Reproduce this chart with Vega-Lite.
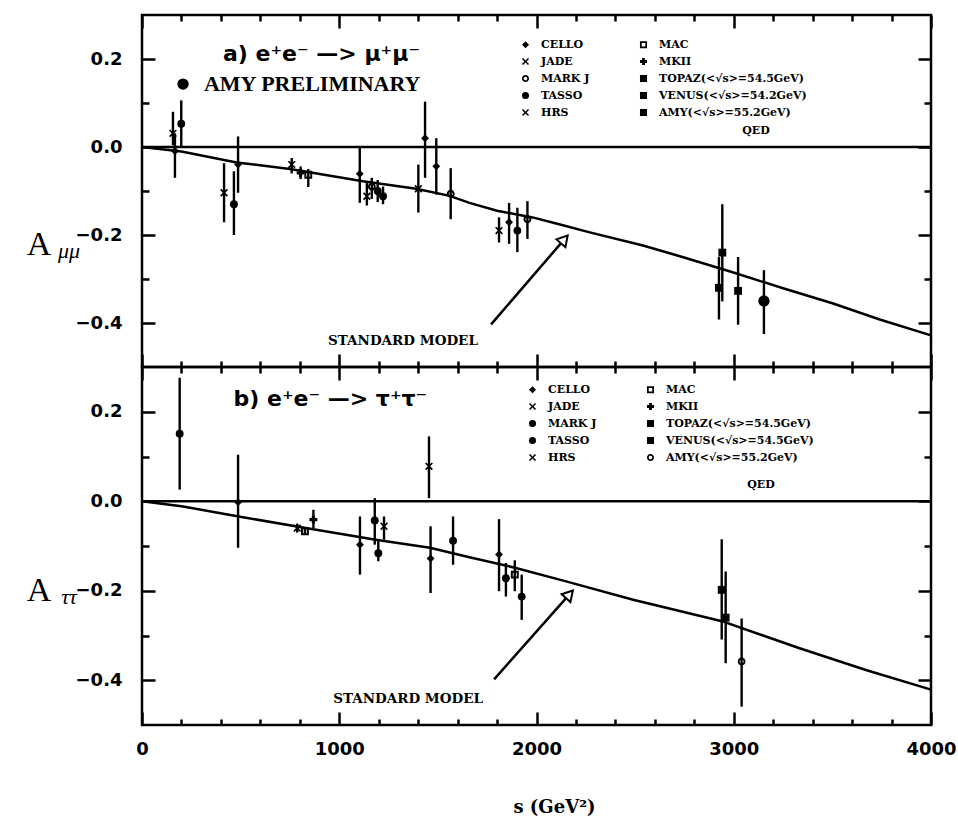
{
  "$schema": "https://vega.github.io/schema/vega-lite/v6.json",
  "background": "white",
  "padding": {"left": 25, "top": 12, "right": 20, "bottom": 10},
  "bounds": "flush",
  "spacing": 0,
  "config": {
    "view": {"stroke": "black", "strokeWidth": 2.5},
    "axis": {"labelFont": "DejaVu Sans", "labelFontWeight": "bold", "labelFontSize": 18, "labelColor": "black", "tickColor": "black", "tickWidth": 2.5, "domain": false, "grid": false, "labelAngle": 0}
  },
  "datasets": {
    "pts": [
      {"panel": "mu", "exp": "JADE", "s": 157, "A": 0.031, "lo": 0.004, "hi": 0.08},
      {"panel": "mu", "exp": "CELLO", "s": 167, "A": -0.009, "lo": -0.07, "hi": 0.031},
      {"panel": "mu", "exp": "TASSO", "s": 199, "A": 0.053, "lo": 0.0, "hi": 0.106},
      {"panel": "mu", "exp": "JADE", "s": 416, "A": -0.104, "lo": -0.171, "hi": -0.037},
      {"panel": "mu", "exp": "TASSO", "s": 466, "A": -0.13, "lo": -0.2, "hi": -0.055},
      {"panel": "mu", "exp": "CELLO", "s": 487, "A": -0.04, "lo": -0.104, "hi": 0.024},
      {"panel": "mu", "exp": "HRS", "s": 759, "A": -0.04, "lo": -0.06, "hi": -0.025},
      {"panel": "mu", "exp": "MKII", "s": 804, "A": -0.059, "lo": -0.073, "hi": -0.044},
      {"panel": "mu", "exp": "MAC", "s": 843, "A": -0.063, "lo": -0.091, "hi": -0.05},
      {"panel": "mu", "exp": "CELLO", "s": 1104, "A": -0.061, "lo": -0.127, "hi": 0.0},
      {"panel": "mu", "exp": "JADE", "s": 1140, "A": -0.112, "lo": -0.133, "hi": -0.082},
      {"panel": "mu", "exp": "MARK J", "s": 1165, "A": -0.09, "lo": -0.118, "hi": -0.07},
      {"panel": "mu", "exp": "TASSO", "s": 1195, "A": -0.1, "lo": -0.125, "hi": -0.075},
      {"panel": "mu", "exp": "TASSO", "s": 1222, "A": -0.112, "lo": -0.13, "hi": -0.09},
      {"panel": "mu", "exp": "JADE", "s": 1401, "A": -0.095, "lo": -0.149, "hi": -0.04},
      {"panel": "mu", "exp": "CELLO", "s": 1435, "A": 0.02, "lo": -0.07, "hi": 0.103},
      {"panel": "mu", "exp": "CELLO", "s": 1492, "A": -0.044, "lo": -0.108, "hi": 0.02},
      {"panel": "mu", "exp": "MARK J", "s": 1565, "A": -0.106, "lo": -0.164, "hi": -0.048},
      {"panel": "mu", "exp": "JADE", "s": 1810, "A": -0.19, "lo": -0.217, "hi": -0.16},
      {"panel": "mu", "exp": "CELLO", "s": 1861, "A": -0.171, "lo": -0.22, "hi": -0.127},
      {"panel": "mu", "exp": "TASSO", "s": 1903, "A": -0.19, "lo": -0.239, "hi": -0.138},
      {"panel": "mu", "exp": "MARK J", "s": 1954, "A": -0.164, "lo": -0.209, "hi": -0.123},
      {"panel": "mu", "exp": "TOPAZ", "s": 2925, "A": -0.32, "lo": -0.392, "hi": -0.25},
      {"panel": "mu", "exp": "VENUS", "s": 2942, "A": -0.24, "lo": -0.351, "hi": -0.13},
      {"panel": "mu", "exp": "AMY", "s": 3022, "A": -0.327, "lo": -0.404, "hi": -0.25},
      {"panel": "mu", "exp": "AMY PRELIM", "s": 3153, "A": -0.35, "lo": -0.425, "hi": -0.28},
      {"panel": "tau", "exp": "TASSO", "s": 191, "A": 0.151, "lo": 0.026, "hi": 0.276},
      {"panel": "tau", "exp": "CELLO", "s": 487, "A": -0.002, "lo": -0.104, "hi": 0.104},
      {"panel": "tau", "exp": "HRS", "s": 787, "A": -0.06, "lo": -0.07, "hi": -0.05},
      {"panel": "tau", "exp": "MAC", "s": 826, "A": -0.067, "lo": -0.075, "hi": -0.058},
      {"panel": "tau", "exp": "MKII", "s": 869, "A": -0.041, "lo": -0.06, "hi": -0.019},
      {"panel": "tau", "exp": "CELLO", "s": 1105, "A": -0.097, "lo": -0.164, "hi": -0.034},
      {"panel": "tau", "exp": "MARK J", "s": 1180, "A": -0.043, "lo": -0.097, "hi": 0.007},
      {"panel": "tau", "exp": "TASSO", "s": 1198, "A": -0.116, "lo": -0.134, "hi": -0.089},
      {"panel": "tau", "exp": "JADE", "s": 1227, "A": -0.056, "lo": -0.086, "hi": -0.034},
      {"panel": "tau", "exp": "JADE", "s": 1455, "A": 0.078, "lo": 0.007, "hi": 0.145},
      {"panel": "tau", "exp": "CELLO", "s": 1463, "A": -0.128, "lo": -0.205, "hi": -0.056},
      {"panel": "tau", "exp": "MARK J", "s": 1577, "A": -0.088, "lo": -0.142, "hi": -0.034},
      {"panel": "tau", "exp": "CELLO", "s": 1810, "A": -0.119, "lo": -0.201, "hi": -0.04},
      {"panel": "tau", "exp": "TASSO", "s": 1845, "A": -0.172, "lo": -0.213, "hi": -0.138},
      {"panel": "tau", "exp": "MAC", "s": 1890, "A": -0.164, "lo": -0.201, "hi": -0.132},
      {"panel": "tau", "exp": "TASSO", "s": 1925, "A": -0.213, "lo": -0.265, "hi": -0.164},
      {"panel": "tau", "exp": "TOPAZ", "s": 2939, "A": -0.198, "lo": -0.309, "hi": -0.085},
      {"panel": "tau", "exp": "VENUS", "s": 2959, "A": -0.26, "lo": -0.362, "hi": -0.157},
      {"panel": "tau", "exp": "AMY", "s": 3040, "A": -0.358, "lo": -0.459, "hi": -0.262}
    ],
    "sm": [
      {"panel": "mu", "s": 0, "A": 0.0},
      {"panel": "mu", "s": 200, "A": -0.01},
      {"panel": "mu", "s": 480, "A": -0.035},
      {"panel": "mu", "s": 750, "A": -0.05},
      {"panel": "mu", "s": 1120, "A": -0.078},
      {"panel": "mu", "s": 1390, "A": -0.095},
      {"panel": "mu", "s": 1560, "A": -0.111},
      {"panel": "mu", "s": 1660, "A": -0.127},
      {"panel": "mu", "s": 1800, "A": -0.145},
      {"panel": "mu", "s": 1980, "A": -0.16},
      {"panel": "mu", "s": 2110, "A": -0.175},
      {"panel": "mu", "s": 2270, "A": -0.194},
      {"panel": "mu", "s": 2540, "A": -0.224},
      {"panel": "mu", "s": 2740, "A": -0.25},
      {"panel": "mu", "s": 2990, "A": -0.284},
      {"panel": "mu", "s": 3250, "A": -0.321},
      {"panel": "mu", "s": 3500, "A": -0.355},
      {"panel": "mu", "s": 3740, "A": -0.392},
      {"panel": "mu", "s": 4000, "A": -0.428},
      {"panel": "tau", "s": 0, "A": 0.0},
      {"panel": "tau", "s": 200, "A": -0.011},
      {"panel": "tau", "s": 490, "A": -0.034},
      {"panel": "tau", "s": 830, "A": -0.06},
      {"panel": "tau", "s": 1185, "A": -0.086},
      {"panel": "tau", "s": 1460, "A": -0.104},
      {"panel": "tau", "s": 1660, "A": -0.125},
      {"panel": "tau", "s": 1895, "A": -0.149},
      {"panel": "tau", "s": 2150, "A": -0.179},
      {"panel": "tau", "s": 2490, "A": -0.22},
      {"panel": "tau", "s": 2940, "A": -0.268},
      {"panel": "tau", "s": 3330, "A": -0.328},
      {"panel": "tau", "s": 3670, "A": -0.377},
      {"panel": "tau", "s": 4000, "A": -0.421}
    ]
  },
  "resolve": {"scale": {"shape": "independent"}, "legend": {"shape": "independent"}},
  "vconcat": [
    {
      "width": 789,
      "height": 352,
      "resolve": {"axis": {"x": "independent", "y": "independent"}},
      "layer": [
        {
          "data": {"values": [{}]},
          "mark": {"type": "rule", "color": "black", "strokeWidth": 2.5},
          "encoding": {"y": {"datum": 0, "type": "quantitative", "axis": null, "scale": {"domain": [-0.5, 0.3], "nice": false}}}
        },
        {
          "data": {"name": "sm"},
          "transform": [{"filter": "datum.panel == 'mu'"}],
          "mark": {"type": "line", "color": "black", "strokeWidth": 2.5},
          "encoding": {
            "x": {"field": "s", "type": "quantitative", "scale": {"domain": [0, 4000], "nice": false}, "axis": {"orient": "bottom", "values": [0, 1000, 2000, 3000, 4000], "tickSize": -13, "labels": false, "title": null}},
            "y": {"field": "A", "type": "quantitative", "scale": {"domain": [-0.5, 0.3], "nice": false}, "axis": {"orient": "left", "values": [-0.4, -0.2, 0, 0.2], "format": ".1f", "tickSize": -13, "labelPadding": 33, "title": null}}
          }
        },
        {
          "data": {"name": "pts"},
          "transform": [{"filter": "datum.panel == 'mu'"}],
          "mark": {"type": "rule", "color": "black", "strokeWidth": 2.4},
          "encoding": {
            "x": {"field": "s", "type": "quantitative", "scale": {"domain": [0, 4000], "nice": false}, "axis": {"orient": "bottom", "values": [200, 400, 600, 800, 1200, 1400, 1600, 1800, 2200, 2400, 2600, 2800, 3200, 3400, 3600, 3800], "tickSize": -6, "labels": false, "title": null}},
            "y": {"field": "lo", "type": "quantitative", "scale": {"domain": [-0.5, 0.3], "nice": false}, "axis": {"orient": "left", "values": [-0.3, -0.1, 0.1], "tickSize": -7, "labels": false, "title": null}},
            "y2": {"field": "hi"}
          }
        },
        {
          "data": {"name": "pts"},
          "transform": [{"filter": "datum.panel == 'mu' && datum.exp != 'AMY PRELIM'"}],
          "mark": {"type": "point", "size": 62, "filled": true, "color": "black", "opacity": 1},
          "encoding": {
            "x": {"field": "s", "type": "quantitative", "scale": {"domain": [0, 4000], "nice": false}, "axis": {"orient": "top", "values": [0, 1000, 2000, 3000, 4000], "tickSize": -13, "labels": false, "title": null}},
            "y": {"field": "A", "type": "quantitative", "scale": {"domain": [-0.5, 0.3], "nice": false}, "axis": {"orient": "right", "values": [-0.4, -0.2, 0, 0.2], "tickSize": -13, "labels": false, "title": null}},
            "shape": {"field": "exp", "type": "nominal",
              "scale": {"domain": ["CELLO", "JADE", "MARK J", "TASSO", "HRS", "MAC", "MKII", "TOPAZ", "VENUS", "AMY"],
                        "range": ["diamond",
                                  "M-1,-0.7L-0.7,-1L0,-0.3L0.7,-1L1,-0.7L0.3,0L1,0.7L0.7,1L0,0.3L-0.7,1L-1,0.7L-0.3,0Z",
                                  "M-1,0A1,1,0,1,1,1,0A1,1,0,1,1,-1,0ZM-0.5,0A0.5,0.5,0,1,0,0.5,0A0.5,0.5,0,1,0,-0.5,0Z",
                                  "circle",
                                  "M-1,-0.7L-0.7,-1L0,-0.3L0.7,-1L1,-0.7L0.3,0L1,0.7L0.7,1L0,0.3L-0.7,1L-1,0.7L-0.3,0Z",
                                  "M-1,-1L1,-1L1,1L-1,1ZM-0.5,-0.5L-0.5,0.5L0.5,0.5L0.5,-0.5Z",
                                  "cross", "square", "square", "square"]},
              "legend": {"title": null, "orient": "none", "legendX": 378, "legendY": 24, "columns": 2, "columnPadding": 48, "rowPadding": 5, "symbolSize": 50, "symbolFillColor": "black", "symbolStrokeWidth": 0, "labelFont": "DejaVu Serif", "labelFontWeight": "bold", "labelFontSize": 11, "labelColor": "black", "labelOffset": 10, "padding": 0,
                "labelExpr": "datum.label == 'TOPAZ' ? 'TOPAZ(<√s>=54.5GeV)' : datum.label == 'VENUS' ? 'VENUS(<√s>=54.2GeV)' : datum.label == 'AMY' ? 'AMY(<√s>=55.2GeV)' : datum.label"}}
          }
        },
        {
          "data": {"name": "pts"},
          "transform": [{"filter": "datum.panel == 'mu' && datum.exp == 'AMY PRELIM'"}],
          "mark": {"type": "circle", "size": 130, "color": "black", "opacity": 1},
          "encoding": {
            "x": {"field": "s", "type": "quantitative", "scale": {"domain": [0, 4000], "nice": false}, "axis": {"orient": "top", "values": [200, 400, 600, 800, 1200, 1400, 1600, 1800, 2200, 2400, 2600, 2800, 3200, 3400, 3600, 3800], "tickSize": -6, "labels": false, "title": null}},
            "y": {"field": "A", "type": "quantitative", "scale": {"domain": [-0.5, 0.3], "nice": false}, "axis": {"orient": "right", "values": [-0.3, -0.1, 0.1], "tickSize": -7, "labels": false, "title": null}}
          }
        },
        {
          "data": {"values": [{}]},
          "mark": {"type": "text", "text": "a) e⁺e⁻ —> μ⁺μ⁻", "font": "DejaVu Sans", "fontSize": 22, "fontWeight": "bold", "align": "center", "baseline": "middle", "color": "black"},
          "encoding": {"x": {"datum": 910, "type": "quantitative", "axis": null}, "y": {"datum": 0.211, "type": "quantitative", "axis": null}}
        },
        {
          "data": {"values": [{}]},
          "mark": {"type": "circle", "size": 130, "color": "black", "opacity": 1},
          "encoding": {"x": {"datum": 208, "type": "quantitative", "axis": null}, "y": {"datum": 0.143, "type": "quantitative", "axis": null}}
        },
        {
          "data": {"values": [{}]},
          "mark": {"type": "text", "text": "AMY PRELIMINARY", "font": "Liberation Serif", "fontSize": 22, "fontWeight": "bold", "align": "left", "baseline": "middle", "color": "black"},
          "encoding": {"x": {"datum": 314, "type": "quantitative", "axis": null}, "y": {"datum": 0.143, "type": "quantitative", "axis": null}}
        },
        {
          "data": {"values": [{}]},
          "mark": {"type": "text", "text": "QED", "font": "DejaVu Serif", "fontSize": 11, "fontWeight": "bold", "align": "center", "baseline": "middle", "color": "black"},
          "encoding": {"x": {"datum": 3113, "type": "quantitative", "axis": null}, "y": {"datum": 0.037, "type": "quantitative", "axis": null}}
        },
        {
          "data": {"values": [{}]},
          "mark": {"type": "text", "text": "STANDARD MODEL", "font": "DejaVu Serif", "fontSize": 13.5, "fontWeight": "bold", "align": "center", "baseline": "middle", "color": "black"},
          "encoding": {"x": {"datum": 1323, "type": "quantitative", "axis": null}, "y": {"datum": -0.441, "type": "quantitative", "axis": null}}
        },
        {
          "data": {"values": [{}]},
          "mark": {"type": "rule", "color": "black", "strokeWidth": 2.5},
          "encoding": {"x": {"datum": 1770, "type": "quantitative", "axis": null}, "y": {"datum": -0.403, "type": "quantitative", "axis": null}, "x2": {"datum": 2141}, "y2": {"datum": -0.21}}
        },
        {
          "data": {"values": [{}]},
          "mark": {"type": "point", "shape": "triangle-up", "angle": 41, "size": 140, "filled": true, "fill": "white", "stroke": "black", "strokeWidth": 2, "opacity": 1},
          "encoding": {"x": {"datum": 2141, "type": "quantitative", "axis": null}, "y": {"datum": -0.21, "type": "quantitative", "axis": null}}
        },
        {
          "data": {"values": [{}]},
          "mark": {"type": "text", "text": "A", "font": "Liberation Serif", "fontSize": 34, "align": "center", "baseline": "middle", "color": "black"},
          "encoding": {"x": {"datum": -522, "type": "quantitative", "axis": null}, "y": {"datum": -0.223, "type": "quantitative", "axis": null}}
        },
        {
          "data": {"values": [{}]},
          "mark": {"type": "text", "text": "μμ", "font": "Liberation Serif", "fontSize": 22, "fontStyle": "italic", "align": "center", "baseline": "middle", "color": "black"},
          "encoding": {"x": {"datum": -370, "type": "quantitative", "axis": null}, "y": {"datum": -0.236, "type": "quantitative", "axis": null}}
        }
      ]
    },
    {
      "width": 789,
      "height": 358,
      "resolve": {"axis": {"x": "independent", "y": "independent"}},
      "layer": [
        {
          "data": {"values": [{}]},
          "mark": {"type": "rule", "color": "black", "strokeWidth": 2.5},
          "encoding": {"y": {"datum": 0, "type": "quantitative", "axis": null, "scale": {"domain": [-0.5, 0.3], "nice": false}}}
        },
        {
          "data": {"name": "sm"},
          "transform": [{"filter": "datum.panel == 'tau'"}],
          "mark": {"type": "line", "color": "black", "strokeWidth": 2.5},
          "encoding": {
            "x": {"field": "s", "type": "quantitative", "scale": {"domain": [0, 4000], "nice": false}, "axis": {"orient": "bottom", "values": [0, 1000, 2000, 3000, 4000], "format": "d", "tickSize": -13, "labelPadding": 28, "labelFlush": false, "title": "s (GeV²)", "titleFont": "DejaVu Serif", "titleFontWeight": "bold", "titleFontSize": 18, "titleColor": "black", "titlePadding": 40, "titleX": 412}},
            "y": {"field": "A", "type": "quantitative", "scale": {"domain": [-0.5, 0.3], "nice": false}, "axis": {"orient": "left", "values": [-0.4, -0.2, 0, 0.2], "format": ".1f", "tickSize": -13, "labelPadding": 33, "title": null}}
          }
        },
        {
          "data": {"name": "pts"},
          "transform": [{"filter": "datum.panel == 'tau'"}],
          "mark": {"type": "rule", "color": "black", "strokeWidth": 2.4},
          "encoding": {
            "x": {"field": "s", "type": "quantitative", "scale": {"domain": [0, 4000], "nice": false}, "axis": {"orient": "bottom", "values": [200, 400, 600, 800, 1200, 1400, 1600, 1800, 2200, 2400, 2600, 2800, 3200, 3400, 3600, 3800], "tickSize": -6, "labels": false, "title": null}},
            "y": {"field": "lo", "type": "quantitative", "scale": {"domain": [-0.5, 0.3], "nice": false}, "axis": {"orient": "left", "values": [-0.3, -0.1, 0.1], "tickSize": -7, "labels": false, "title": null}},
            "y2": {"field": "hi"}
          }
        },
        {
          "data": {"name": "pts"},
          "transform": [{"filter": "datum.panel == 'tau'"}],
          "mark": {"type": "point", "size": 62, "filled": true, "color": "black", "opacity": 1},
          "encoding": {
            "x": {"field": "s", "type": "quantitative", "scale": {"domain": [0, 4000], "nice": false}, "axis": {"orient": "top", "values": [0, 1000, 2000, 3000, 4000], "tickSize": -13, "labels": false, "title": null}},
            "y": {"field": "A", "type": "quantitative", "scale": {"domain": [-0.5, 0.3], "nice": false}, "axis": {"orient": "right", "values": [-0.4, -0.2, 0, 0.2], "tickSize": -13, "labels": false, "title": null}},
            "shape": {"field": "exp", "type": "nominal",
              "scale": {"domain": ["CELLO", "JADE", "MARK J", "TASSO", "HRS", "MAC", "MKII", "TOPAZ", "VENUS", "AMY"],
                        "range": ["diamond",
                                  "M-1,-0.7L-0.7,-1L0,-0.3L0.7,-1L1,-0.7L0.3,0L1,0.7L0.7,1L0,0.3L-0.7,1L-1,0.7L-0.3,0Z",
                                  "circle",
                                  "circle",
                                  "M-1,-0.7L-0.7,-1L0,-0.3L0.7,-1L1,-0.7L0.3,0L1,0.7L0.7,1L0,0.3L-0.7,1L-1,0.7L-0.3,0Z",
                                  "M-1,-1L1,-1L1,1L-1,1ZM-0.5,-0.5L-0.5,0.5L0.5,0.5L0.5,-0.5Z",
                                  "cross", "square", "square",
                                  "M-1,0A1,1,0,1,1,1,0A1,1,0,1,1,-1,0ZM-0.5,0A0.5,0.5,0,1,0,0.5,0A0.5,0.5,0,1,0,-0.5,0Z"]},
              "legend": {"title": null, "orient": "none", "legendX": 385, "legendY": 17, "columns": 2, "columnPadding": 48, "rowPadding": 5, "symbolSize": 50, "symbolFillColor": "black", "symbolStrokeWidth": 0, "labelFont": "DejaVu Serif", "labelFontWeight": "bold", "labelFontSize": 11, "labelColor": "black", "labelOffset": 10, "padding": 0,
                "labelExpr": "datum.label == 'TOPAZ' ? 'TOPAZ(<√s>=54.5GeV)' : datum.label == 'VENUS' ? 'VENUS(<√s>=54.5GeV)' : datum.label == 'AMY' ? 'AMY(<√s>=55.2GeV)' : datum.label"}}
          }
        },
        {
          "data": {"values": [{}]},
          "mark": {"type": "rule", "color": "black", "strokeWidth": 2.5},
          "encoding": {
            "x": {"datum": 1785, "type": "quantitative", "axis": {"orient": "top", "values": [200, 400, 600, 800, 1200, 1400, 1600, 1800, 2200, 2400, 2600, 2800, 3200, 3400, 3600, 3800], "tickSize": -6, "labels": false, "title": null}},
            "y": {"datum": -0.398, "type": "quantitative", "axis": {"orient": "right", "values": [-0.3, -0.1, 0.1], "tickSize": -7, "labels": false, "title": null}},
            "x2": {"datum": 2167}, "y2": {"datum": -0.208}
          }
        },
        {
          "data": {"values": [{}]},
          "mark": {"type": "point", "shape": "triangle-up", "angle": 42, "size": 140, "filled": true, "fill": "white", "stroke": "black", "strokeWidth": 2, "opacity": 1},
          "encoding": {"x": {"datum": 2167, "type": "quantitative", "axis": null}, "y": {"datum": -0.208, "type": "quantitative", "axis": null}}
        },
        {
          "data": {"values": [{}]},
          "mark": {"type": "text", "text": "b) e⁺e⁻ —> τ⁺τ⁻", "font": "DejaVu Sans", "fontSize": 22, "fontWeight": "bold", "align": "center", "baseline": "middle", "color": "black"},
          "encoding": {"x": {"datum": 955, "type": "quantitative", "axis": null}, "y": {"datum": 0.228, "type": "quantitative", "axis": null}}
        },
        {
          "data": {"values": [{}]},
          "mark": {"type": "text", "text": "QED", "font": "DejaVu Serif", "fontSize": 11, "fontWeight": "bold", "align": "center", "baseline": "middle", "color": "black"},
          "encoding": {"x": {"datum": 3138, "type": "quantitative", "axis": null}, "y": {"datum": 0.036, "type": "quantitative", "axis": null}}
        },
        {
          "data": {"values": [{}]},
          "mark": {"type": "text", "text": "STANDARD MODEL", "font": "DejaVu Serif", "fontSize": 13.5, "fontWeight": "bold", "align": "center", "baseline": "middle", "color": "black"},
          "encoding": {"x": {"datum": 1349, "type": "quantitative", "axis": null}, "y": {"datum": -0.441, "type": "quantitative", "axis": null}}
        },
        {
          "data": {"values": [{}]},
          "mark": {"type": "text", "text": "A", "font": "Liberation Serif", "fontSize": 34, "align": "center", "baseline": "middle", "color": "black"},
          "encoding": {"x": {"datum": -522, "type": "quantitative", "axis": null}, "y": {"datum": -0.201, "type": "quantitative", "axis": null}}
        },
        {
          "data": {"values": [{}]},
          "mark": {"type": "text", "text": "ττ", "font": "Liberation Serif", "fontSize": 22, "fontStyle": "italic", "align": "center", "baseline": "middle", "color": "black"},
          "encoding": {"x": {"datum": -370, "type": "quantitative", "axis": null}, "y": {"datum": -0.214, "type": "quantitative", "axis": null}}
        }
      ]
    }
  ]
}
